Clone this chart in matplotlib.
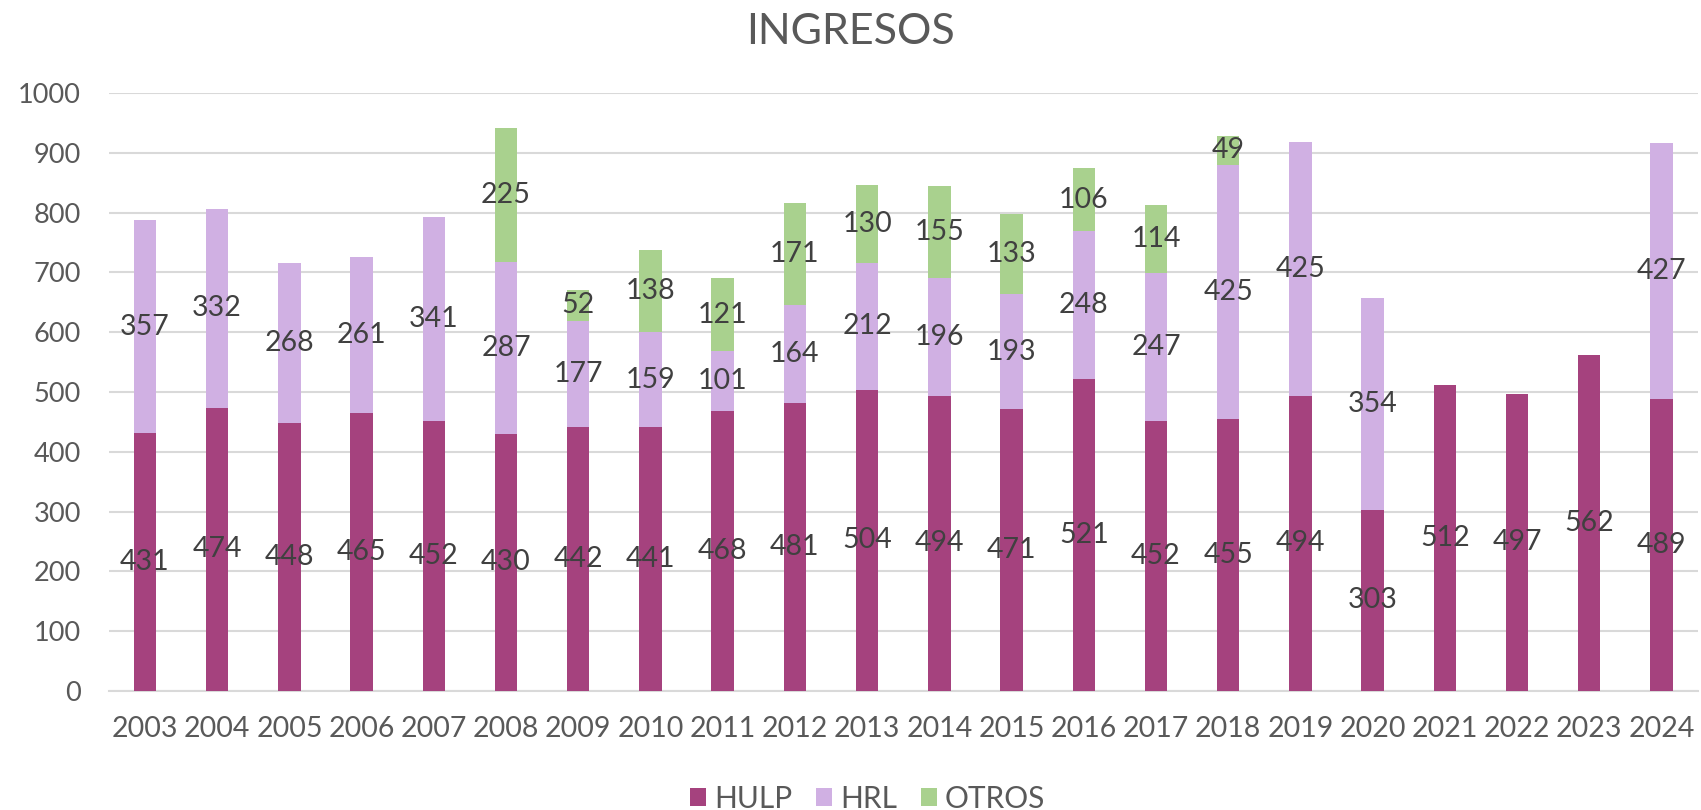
import matplotlib
matplotlib.use("Agg")
import matplotlib.pyplot as plt
import numpy as np

years = [str(y) for y in range(2003, 2025)]
hulp = [431, 474, 448, 465, 452, 430, 442, 441, 468, 481, 504, 494, 471, 521, 452, 455, 494, 303, 512, 497, 562, 489]
hrl = [357, 332, 268, 261, 341, 287, 177, 159, 101, 164, 212, 196, 193, 248, 247, 425, 425, 354, 0, 0, 0, 427]
otros = [0, 0, 0, 0, 0, 225, 52, 138, 121, 171, 130, 155, 133, 106, 114, 49, 0, 0, 0, 0, 0, 0]
series_names = ["HULP", "HRL", "OTROS"]
colors = ["#A5427E", "#D0B0E3", "#A9D18E"]

plt.rcParams['font.family'] = ['Lato', 'DejaVu Sans']

fig = plt.figure(figsize=(17.01, 8.10), dpi=100)
ax = fig.add_axes([0.064, 0.147, 0.934, 0.738])

x = np.arange(len(years))
w = 0.31
bottom = np.zeros(len(years))
handles = []
for name, vals, col in zip(series_names, [hulp, hrl, otros], colors):
    vals = np.array(vals, dtype=float)
    b = ax.bar(x, vals, w, bottom=bottom, color=col, label=name, zorder=3)
    handles.append(b)
    for xi, v, bt in zip(x, vals, bottom):
        if v > 0:
            ax.text(xi, bt + v / 2, f"{int(v)}", ha='center', va='center',
                    fontsize=20.5, color='#404040', zorder=4)
    bottom += vals

ax.set_xlim(-0.5, len(years) - 0.5)
ax.set_ylim(0, 1000)
ax.set_yticks(range(0, 1001, 100))
ax.set_xticks(x)
ax.set_xticklabels(years)
ax.tick_params(axis='both', length=0, labelcolor='#595959')
ax.tick_params(axis='y', pad=20, labelsize=19.5)
ax.tick_params(axis='x', pad=18, labelsize=20.5)
ax.grid(axis='y', color='#D9D9D9', linewidth=1.5, zorder=0)
for s in ['top', 'right', 'left']:
    ax.spines[s].set_visible(False)
ax.spines['bottom'].set_color('#D9D9D9')
ax.spines['bottom'].set_linewidth(1.5)

fig.text(0.5, 0.96, "INGRESOS", ha='center', va='center', fontsize=31, color='#595959')

fig.legend(handles=handles, labels=series_names, loc='center', bbox_to_anchor=(0.51, 0.014),
           ncol=3, frameon=False, fontsize=21.5, labelcolor='#595959',
           handlelength=0.55, handleheight=0.55, handletextpad=0.25, columnspacing=0.8)

fig.savefig("out.png", dpi=100)
